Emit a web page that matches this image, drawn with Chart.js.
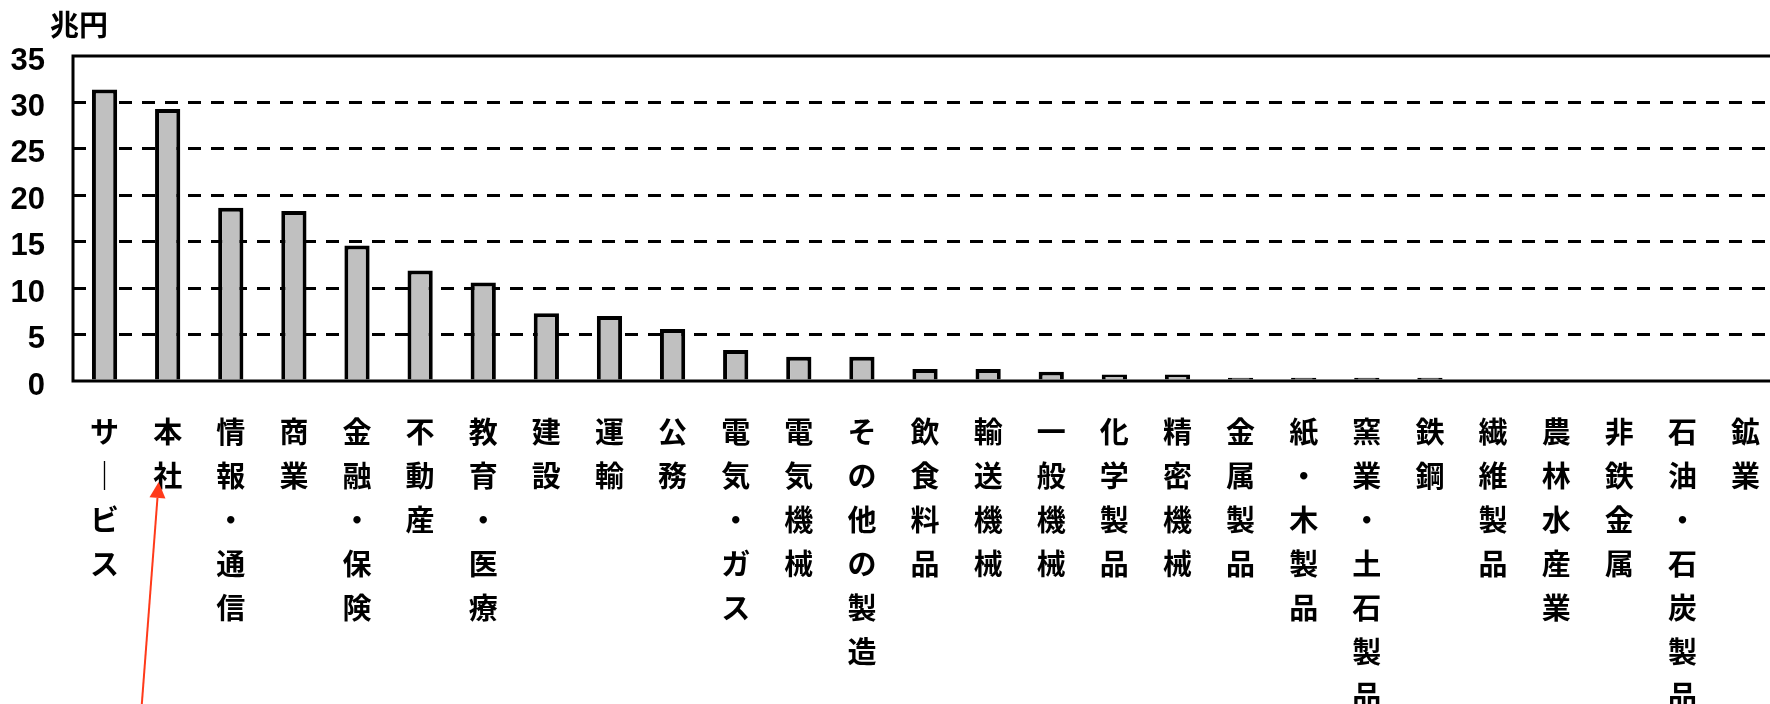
<!DOCTYPE html>
<html lang="ja">
<head>
<meta charset="utf-8">
<title>業種別</title>
<script src="https://cdn.jsdelivr.net/npm/chart.js@4.4.1/dist/chart.umd.min.js"></script>
<style>
  html, body { margin: 0; padding: 0; background: #fff; overflow: hidden; }
  #wrap { position: relative; width: 1781px; height: 704px; }
</style>
</head>
<body>
<div id="wrap"><canvas id="chart"></canvas></div>
<script>
// 業種別の値（兆円）
const categories = [
  'サービス', '本社', '情報・通信', '商業', '金融・保険', '不動産', '教育・医療',
  '建設', '運輸', '公務', '電気・ガス', '電気機械', 'その他の製造', '飲食料品',
  '輸送機械', '一般機械', '化学製品', '精密機械', '金属製品', '紙・木製品',
  '窯業・土石製品', '鉄鋼', '繊維製品', '農林水産業', '非鉄金属', '石油・石炭製品', '鉱業'
];
const values = [
  31.4, 29.3, 18.65, 18.3, 14.6, 11.9, 10.6,
  7.3, 7.0, 5.6, 3.35, 2.6, 2.6, 1.3,
  1.3, 1.0, 0.7, 0.7, 0.35, 0.35,
  0.35, 0.35, 0, 0, 0, 0, 0
];
const yMin = 0;
const yMax = 35;
const yStep = 5;
const unitLabel = '兆円';
const arrowTarget = 1; // 本社

// 縦書き用に一文字ずつ分ける（長音は縦棒に）
function verticalText(label) {
  return Array.from(label).map(ch => (ch === 'ー' ? '｜' : ch));
}

// 枠線はバーの上に描く
const framePlugin = {
  id: 'frame',
  afterDatasetsDraw(chart) {
    const { ctx, chartArea: a } = chart;
    ctx.save();
    ctx.strokeStyle = '#000';
    ctx.lineWidth = 3;
    ctx.strokeRect(a.left, a.top, a.right - a.left, a.bottom - a.top);
    ctx.restore();
  }
};

// 単位と矢印
const notesPlugin = {
  id: 'notes',
  afterDraw(chart) {
    const { ctx, chartArea: a, scales } = chart;
    ctx.save();
    ctx.fillStyle = '#000';
    ctx.font = 'bold 29px "Noto Sans CJK JP"';
    ctx.textBaseline = 'middle';
    ctx.textAlign = 'left';
    ctx.fillText(unitLabel, 50, 25);

    const cx = scales.x.getPixelForValue(arrowTarget);
    const tipX = cx - 9, tipY = a.bottom + 101;
    const tailX = cx - 26, tailY = chart.height + 2;
    const dx = tipX - tailX, dy = tipY - tailY;
    const len = Math.hypot(dx, dy);
    const ux = dx / len, uy = dy / len;
    const headLen = 16, headHalf = 8;
    const bx = tipX - ux * headLen, by = tipY - uy * headLen;

    ctx.strokeStyle = '#ff3a1a';
    ctx.fillStyle = '#ff3a1a';
    ctx.lineWidth = 2;
    ctx.beginPath();
    ctx.moveTo(tailX, tailY);
    ctx.lineTo(bx, by);
    ctx.stroke();
    ctx.beginPath();
    ctx.moveTo(tipX, tipY);
    ctx.lineTo(bx - uy * headHalf, by + ux * headHalf);
    ctx.lineTo(bx + uy * headHalf, by - ux * headHalf);
    ctx.closePath();
    ctx.fill();
    ctx.restore();
  }
};

new Chart(document.getElementById('chart'), {
  type: 'bar',
  data: {
    labels: categories,
    datasets: [{
      data: values,
      backgroundColor: '#c0c0c0',
      borderColor: '#000',
      borderWidth: 4,
      barPercentage: 0.4,
      categoryPercentage: 1.0
    }]
  },
  options: {
    responsive: true,
    maintainAspectRatio: false,
    animation: false,
    devicePixelRatio: 1,
    layout: { padding: { top: 56, left: 0, right: 0, bottom: 0 } },
    plugins: {
      legend: { display: false },
      title: { display: false },
      tooltip: { enabled: false }
    },
    scales: {
      x: {
        grid: { display: false },
        border: { display: false },
        afterFit(scale) { scale.height = 323; },
        ticks: {
          autoSkip: false,
          maxRotation: 0,
          minRotation: 0,
          padding: 21,
          color: '#000',
          font: { family: '"Noto Sans CJK JP"', size: 29, weight: 'bold', lineHeight: 44 / 29 },
          callback: (v, i) => verticalText(categories[i])
        }
      },
      y: {
        min: yMin,
        max: yMax,
        afterFit(scale) { scale.width = 73; },
        grid: {
          drawTicks: false,
          lineWidth: 3,
          color: ctx => (ctx.tick && (ctx.tick.value === yMin || ctx.tick.value === yMax)) ? 'rgba(0,0,0,0)' : '#000'
        },
        border: { display: false, dash: [13, 10] },
        ticks: {
          stepSize: yStep,
          padding: 28,
          labelOffset: 5,
          color: '#000',
          font: { family: '"Liberation Sans"', size: 31, weight: 'bold' }
        }
      }
    }
  },
  plugins: [framePlugin, notesPlugin]
});
</script>
</body>
</html>
